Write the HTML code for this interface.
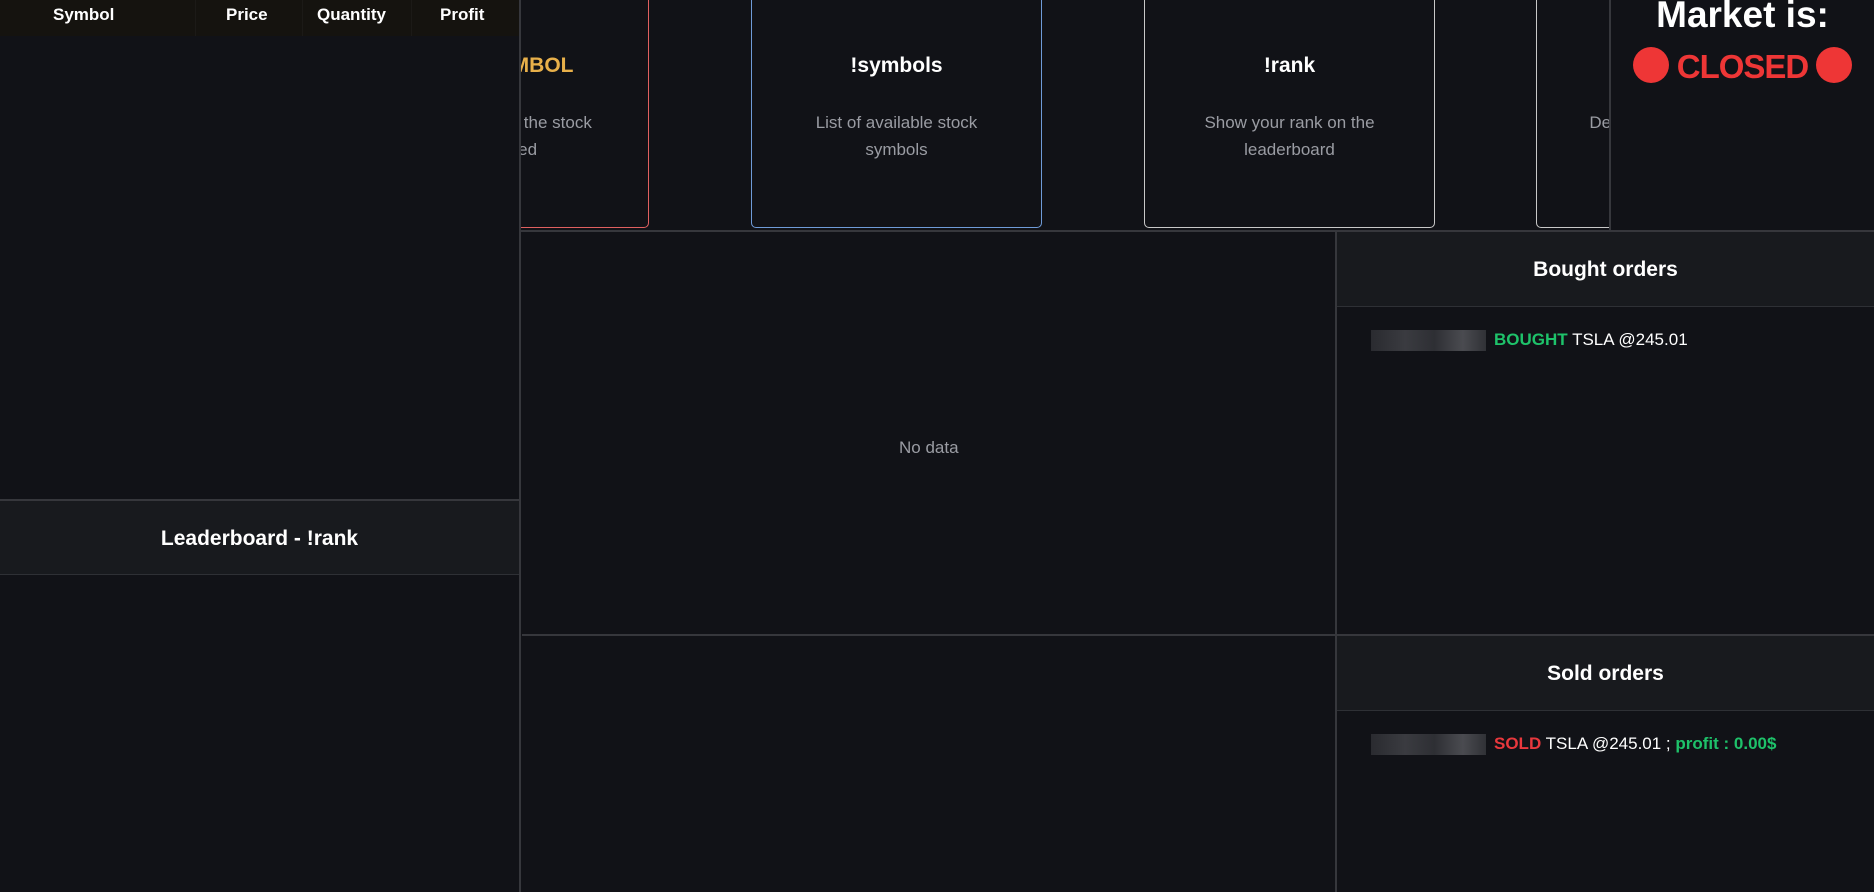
<!DOCTYPE html>
<html><head><meta charset="utf-8"><style>
*{margin:0;padding:0;box-sizing:border-box}
body{width:1874px;height:892px;background:#111217;overflow:hidden;position:relative;font-family:"Liberation Sans",sans-serif;color:#fff}
.a{position:absolute}
.card{position:absolute;top:-10px;width:291px;height:238px;border:1.5px solid #c8c8c8;border-radius:5px;background:#111217;text-align:center}
.card h3{position:absolute;left:0;right:0;top:63px;font-size:21px;font-weight:bold}
.card p{position:absolute;left:48px;right:48px;top:118px;font-size:17px;line-height:27px;color:#9a9ca3}
.hdr{position:absolute;background:#181a1e;border-bottom:1px solid #2e3035;text-align:center;font-weight:bold;font-size:21px}
.pix{display:inline-block;width:115px;height:21px;background:linear-gradient(90deg,#2a2b30,#3a3b40 30%,#2e2f34 55%,#4a4b50 80%,#303136);vertical-align:middle;margin-right:8px}
.row{position:absolute;left:1371px;font-size:17px;white-space:nowrap}
.g{color:#1ec26a;font-weight:bold}.r{color:#e8383d;font-weight:bold}
</style></head><body>
<div class="card" style="left:358px;border-color:#e06060"><h3 style="color:#e8b04a">!buy SYMBOL</h3><p>Buy shares of the stock specified</p></div>
<div class="card" style="left:751px;border-color:#6f9bd8"><h3>!symbols</h3><p>List of available stock symbols</p></div>
<div class="card" style="left:1144px"><h3>!rank</h3><p>Show your rank on the leaderboard</p></div>
<div class="card" style="left:1536px"><h3>!reset</h3><p>Delete your account and register again</p></div>
<div class="a" style="left:1609px;top:0;width:265px;height:231px;background:#111217;border-left:2px solid #36373c;text-align:center">
<div style="font-size:37px;font-weight:bold;margin-top:-7px;line-height:44px">Market is:</div>
<div style="font-size:33px;font-weight:bold;color:#ee3636;line-height:44px;margin-top:8px;white-space:nowrap;letter-spacing:-1px"><span style="display:inline-block;width:36px;height:36px;border-radius:50%;background:#ee3636;vertical-align:-5px"></span> CLOSED <span style="display:inline-block;width:36px;height:36px;border-radius:50%;background:#ee3636;vertical-align:-5px"></span></div>
</div>
<div class="a" style="left:521px;top:230px;width:1353px;height:2px;background:#36373c"></div>
<div class="a" style="left:522px;top:634px;width:1352px;height:2px;background:#36373c"></div>
<div class="a" style="left:1335px;top:231px;width:2px;height:661px;background:#36373c"></div>
<div class="a" style="left:0;top:0;width:521px;height:892px;background:#111217;border-right:2px solid #36373c">
<div class="a" style="left:0;top:0;width:519px;height:36px;background:#15130f;font-size:17px;font-weight:bold">
<span class="a" style="left:53px;top:5px">Symbol</span>
<span class="a" style="left:195px;top:0;width:1px;height:36px;background:#1c1a17"></span>
<span class="a" style="left:226px;top:5px">Price</span>
<span class="a" style="left:302px;top:0;width:1px;height:36px;background:#1c1a17"></span>
<span class="a" style="left:317px;top:5px">Quantity</span>
<span class="a" style="left:411px;top:0;width:1px;height:36px;background:#1c1a17"></span>
<span class="a" style="left:440px;top:5px">Profit</span>
</div>
<div class="hdr" style="left:0;top:499px;width:519px;height:76px;line-height:76px;border-top:2px solid #36373c">Leaderboard - !rank</div>
</div>
<div class="a" style="left:899px;top:438px;font-size:17px;color:#9a9ca3">No data</div>
<div class="hdr" style="left:1337px;top:232px;width:537px;height:75px;line-height:75px">Bought orders</div>
<div class="row" style="top:330px"><span class="pix"></span><span class="g">BOUGHT</span> TSLA @245.01</div>
<div class="hdr" style="left:1337px;top:636px;width:537px;height:75px;line-height:75px">Sold orders</div>
<div class="row" style="top:734px"><span class="pix"></span><span class="r">SOLD</span> TSLA @245.01 ; <span class="g">profit : 0.00$</span></div>
</body></html>
